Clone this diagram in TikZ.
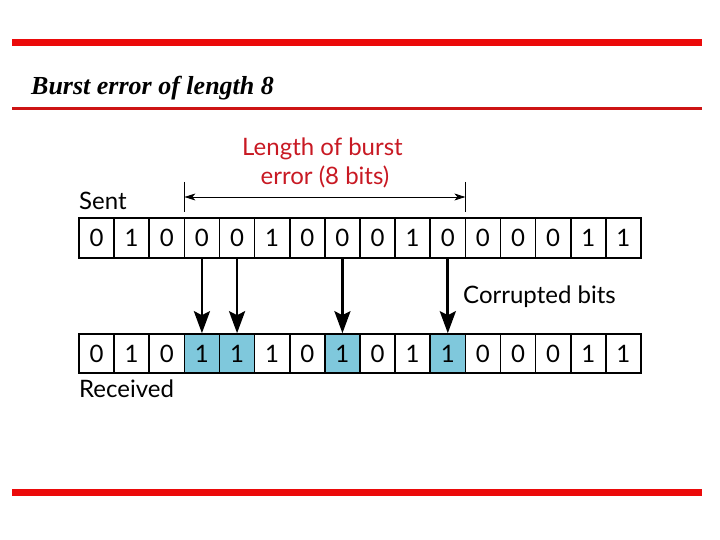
\documentclass[tikz,border=0pt]{standalone}
\usepackage{fontspec}
\setmainfont{Lato}
\newfontfamily\titlefont{Liberation Serif}
\usetikzlibrary{arrows.meta}
\definecolor{barred}{RGB}{235,10,10}
\definecolor{linered}{RGB}{205,20,20}
\definecolor{txtred}{RGB}{200,25,35}
\definecolor{cellblue}{RGB}{127,200,220}
\tikzset{
  cell/.style={draw, line width=1.6pt, minimum width=35.125pt, minimum height=40pt, inner sep=0pt, font=\fontsize{24}{26}\selectfont},
  hot/.style={cell, fill=cellblue},
  lbl/.style={font=\fontsize{24}{28}\selectfont, inner sep=0pt},
  bigarrow/.style={line width=2.8pt, -{Stealth[length=22pt,width=16pt,inset=4pt]}, shorten >=0pt},
  tick/.style={line width=0.8pt},
  burst/.style={line width=0.8pt, {Stealth[length=11pt,width=7pt,inset=3pt]}-{Stealth[length=11pt,width=7pt,inset=3pt]}}
}
\begin{document}
\begin{tikzpicture}[x=1pt,y=-1pt]
\useasboundingbox (0,0) rectangle (720,540);
% bars
\fill[barred] (12,39) rectangle (702,46);
\fill[linered] (12,107) rectangle (702,110);
\fill[barred] (12,489) rectangle (702,496);
% title
\node[anchor=base west, inner sep=0pt, font=\titlefont\bfseries\itshape\fontsize{26}{30}\selectfont] (title) at (31,95) {Burst error of length 8};
% sent row
\foreach \b [count=\i from 0] in {0,1,0,0,0,1,0,0,0,1,0,0,0,0,1,1} {
  \node[cell] (s\i) at ({79+35.125*(\i+0.5)},238) {\b};
}
% received row
\foreach \b/\st [count=\i from 0] in {0/cell,1/cell,0/cell,1/hot,1/hot,1/cell,0/cell,1/hot,0/cell,1/cell,1/hot,0/cell,0/cell,0/cell,1/cell,1/cell} {
  \node[\st, minimum height=39pt] (r\i) at ({79+35.125*(\i+0.5)},353.5) {\b};
}
% labels
\node[lbl, anchor=base west] (sent) at (79,210) {Sent};
\node[lbl, anchor=base west] (recv) at (79,397) {Received};
\node[lbl, anchor=base west] (corr) at (463,303) {Corrupted bits};
\node[lbl, anchor=base, text=txtred] (len1) at (322.5,156) {Length of burst};
\node[lbl, anchor=base, text=txtred] (len2) at (325,185) {error (8 bits)};
% corrupted arrows
\foreach \i in {3,4,7,10} {
  \draw[bigarrow] (s\i.south) -- (r\i.north);
}
% burst extent
\coordinate (t1a) at (184.4,182);
\coordinate (t1b) at (184.4,212);
\coordinate (t2a) at (465.4,182);
\coordinate (t2b) at (465.4,212);
\coordinate (bl) at (184.4,197);
\coordinate (br) at (465.4,197);
\draw[tick] (t1a) -- (t1b);
\draw[tick] (t2a) -- (t2b);
\draw[burst] (bl) -- (br);
\end{tikzpicture}
\end{document}
